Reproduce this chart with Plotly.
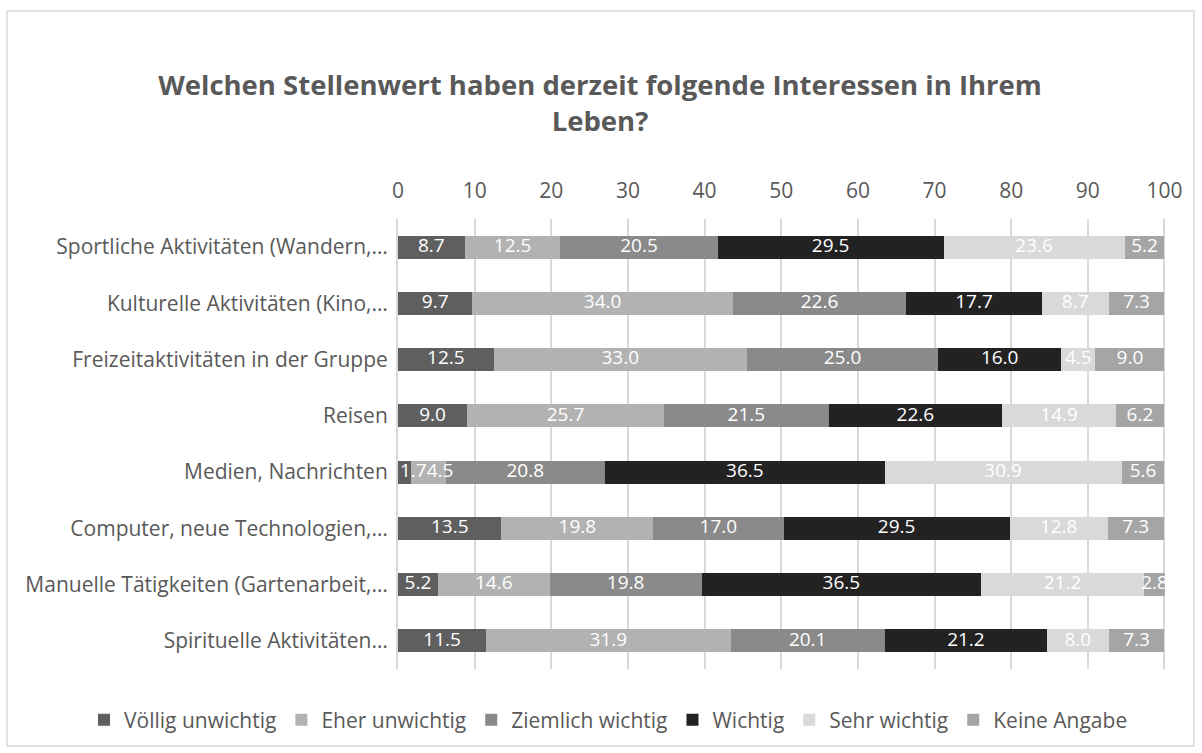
import plotly.graph_objects as go

categories = [
    "Sportliche Aktivitäten (Wandern,…",
    "Kulturelle Aktivitäten (Kino,…",
    "Freizeitaktivitäten in der Gruppe",
    "Reisen",
    "Medien, Nachrichten",
    "Computer, neue Technologien,…",
    "Manuelle Tätigkeiten (Gartenarbeit,…",
    "Spirituelle Aktivitäten…",
]
series_names = ["Völlig unwichtig", "Eher unwichtig", "Ziemlich wichtig", "Wichtig", "Sehr wichtig", "Keine Angabe"]
voellig_unwichtig = [8.7, 9.7, 12.5, 9.0, 1.7, 13.5, 5.2, 11.5]
eher_unwichtig = [12.5, 34.0, 33.0, 25.7, 4.5, 19.8, 14.6, 31.9]
ziemlich_wichtig = [20.5, 22.6, 25.0, 21.5, 20.8, 17.0, 19.8, 20.1]
wichtig = [29.5, 17.7, 16.0, 22.6, 36.5, 29.5, 36.5, 21.2]
sehr_wichtig = [23.6, 8.7, 4.5, 14.9, 30.9, 12.8, 21.2, 8.0]
keine_angabe = [5.2, 7.3, 9.0, 6.2, 5.6, 7.3, 2.8, 7.3]
x_ticks = [0, 10, 20, 30, 40, 50, 60, 70, 80, 90, 100]

values = [voellig_unwichtig, eher_unwichtig, ziemlich_wichtig, wichtig, sehr_wichtig, keine_angabe]
colors = ["#5f5f5f", "#b2b2b2", "#8a8a8a", "#222222", "#d9d9d9", "#a5a5a5"]

FONT = "'Open Sans', sans-serif"
W, H = 1202, 753
L, R, T, B = 398, 36, 219, 84
pw = W - L - R
ph = H - T - B
XMAX = 100.2
px_per_unit = pw / XMAX

fig = go.Figure()
for name, vals, col in zip(series_names, values, colors):
    fig.add_trace(go.Bar(
        y=categories, x=vals, name=name, orientation="h",
        marker=dict(color=col, line=dict(width=0)),
        textposition="none",
    ))

# label positions: centred in each segment; nudged right when a label would
# stick out left of the axis or overlap the previous label (as Excel does)
def label_width(s):
    return (sum(5.0 if c == "." else 10.9 for c in s)) / px_per_unit

label_x = [[0.0] * len(categories) for _ in values]
label_txt = [[f"{v:.1f}" for v in vals] for vals in values]
for i in range(len(categories)):
    start = 0.0
    prev_right = 0.25
    for k, vals in enumerate(values):
        mid = start + vals[i] / 2
        w = label_width(label_txt[k][i])
        left = max(mid - w / 2, prev_right)
        label_x[k][i] = left + w / 2
        prev_right = left + w
        start += vals[i]

for k, name in enumerate(series_names):
    fig.add_trace(go.Scatter(
        x=label_x[k], y=categories, mode="text", text=label_txt[k],
        textposition="middle center", showlegend=False, hoverinfo="skip",
        cliponaxis=False, textfont=dict(color="white", size=19, family=FONT),
    ))

fig.update_layout(
    width=W, height=H, barmode="stack", bargap=0.59,
    paper_bgcolor="white", plot_bgcolor="white",
    margin=dict(l=L, r=R, t=T, b=B, autoexpand=False),
    font=dict(family=FONT, color="#595959", size=21),
    title=dict(text="<b>Welchen Stellenwert haben derzeit folgende Interessen in Ihrem<br>Leben?</b>",
               x=600 / W, xanchor="center", xref="container",
               y=1 - 95 / H, yanchor="middle", yref="container",
               font=dict(size=27.5, color="#595959", family=FONT)),
    legend=dict(orientation="h", xref="paper", yref="paper",
                x=(84 - L) / pw, xanchor="left", y=-(720 - (H - B)) / ph, yanchor="middle",
                font=dict(size=21, color="#595959"), traceorder="normal",
                itemwidth=30, bgcolor="rgba(0,0,0,0)"),
    showlegend=True,
)
fig.update_xaxes(range=[0, XMAX], tickvals=x_ticks, side="top", showgrid=True,
                 gridcolor="#d9d9d9", gridwidth=2, zeroline=False, showline=False,
                 ticks="", ticklabelstandoff=16, tickfont=dict(size=21, color="#595959"),
                 fixedrange=True)
fig.update_yaxes(autorange="reversed", showline=True, linecolor="#d9d9d9", linewidth=2,
                 ticks="", ticklabelstandoff=4, tickfont=dict(size=21, color="#595959"))

fig.add_shape(type="rect", xref="paper", yref="paper",
              x0=(7 - L) / pw, x1=(1194 - L) / pw,
              y0=(H - 746 - B) / ph, y1=(H - 11 - B) / ph,
              line=dict(color="#d9d9d9", width=1.5), fillcolor="rgba(0,0,0,0)", layer="below")

fig.write_html("out.html", config={"displayModeBar": False},
               post_script="document.body.style.margin='0';")
